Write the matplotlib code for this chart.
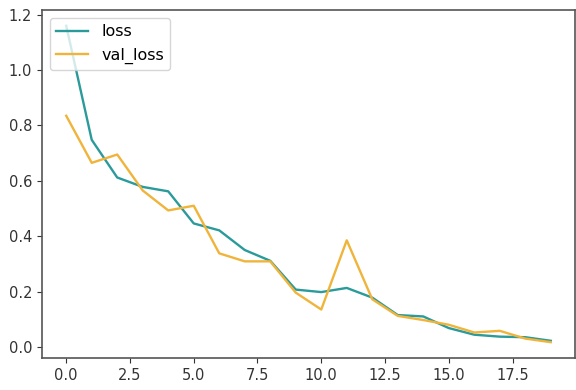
import matplotlib.pyplot as plt
import numpy as np

# training history values
epochs = list(range(20))
loss = [1.16, 0.748, 0.612, 0.578, 0.562, 0.446, 0.421, 0.35, 0.311, 0.207,
        0.198, 0.213, 0.178, 0.115, 0.11, 0.068, 0.044, 0.037, 0.035, 0.022]
val_loss = [0.835, 0.665, 0.695, 0.565, 0.493, 0.51, 0.338, 0.309, 0.309, 0.196,
            0.135, 0.385, 0.172, 0.112, 0.097, 0.08, 0.052, 0.058, 0.03, 0.017]

fig = plt.figure(figsize=(5.76, 3.9), dpi=100)
ax = fig.add_axes([42 / 576, 32 / 390, 533 / 576, 348 / 390])

ax.plot(epochs, loss, color='#2b9a9a', linewidth=1.7, label='loss')
ax.plot(epochs, val_loss, color='#f0b43a', linewidth=1.7, label='val_loss')

ax.set_xlim(-0.95, 19.95)
ax.set_xticks(np.arange(0, 20, 2.5))
ax.set_yticks(np.arange(0, 1.3, 0.2))
ax.tick_params(labelsize=10.5, colors='#333333')
for s in ax.spines.values():
    s.set_color('#555555')
    s.set_linewidth(1.2)

ax.legend(loc='upper left', fontsize=11.5)
fig.savefig('out.png', dpi=100)
